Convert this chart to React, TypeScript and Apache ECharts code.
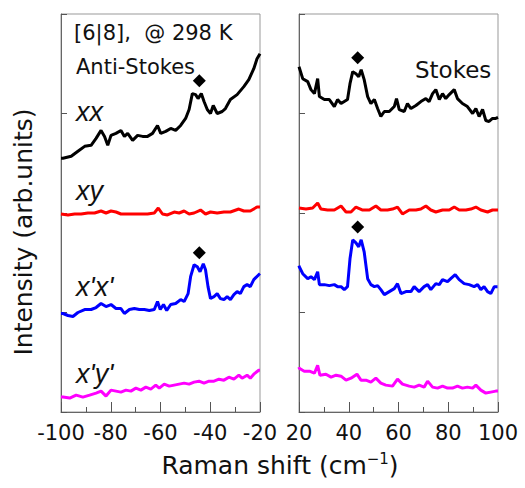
import React, { useEffect, useRef } from "react";
import * as echarts from "echarts";

// ---- data (x in cm^-1, y in arbitrary stacked units) ----
const xxLeft: number[][] = [
  [-100, 2.55], [-99.2, 2.55], [-95.9, 2.57], [-93.2, 2.62], [-90.5, 2.67], [-87.9, 2.68], [-85.9, 2.75],
  [-83.9, 2.83], [-82.5, 2.77], [-81.2, 2.68], [-79.9, 2.78], [-77.9, 2.8], [-75.9, 2.83], [-74.5, 2.77],
  [-73.2, 2.8], [-71.2, 2.73], [-69.2, 2.78], [-67.2, 2.77], [-65.2, 2.77], [-63.2, 2.8], [-61.2, 2.88],
  [-59.9, 2.8], [-57.9, 2.82], [-55.9, 2.85], [-53.9, 2.83], [-51.9, 2.88], [-49.9, 2.95], [-48.5, 3.04],
  [-47.2, 3.2], [-45.9, 3.19], [-44.9, 3.15], [-43.6, 3.2], [-42.5, 3.12], [-41.2, 3.04], [-39.9, 3.0],
  [-38.8, 3.08], [-37.2, 3.0], [-35.2, 3.02], [-33.9, 3.05], [-31.9, 3.14], [-29.2, 3.19], [-26.5, 3.27],
  [-24.5, 3.34], [-22.5, 3.45], [-21.2, 3.55], [-20, 3.6],
];
const xxRight: number[][] = [
  [20, 3.47], [21.5, 3.35], [23.5, 3.32], [24.8, 3.24], [26.2, 3.2], [27.5, 3.35], [28.2, 3.17], [30.2, 3.14],
  [32.2, 3.14], [34.2, 3.07], [35.5, 3.14], [36.9, 3.1], [38.2, 3.12], [39.5, 3.14], [40.5, 3.3], [41.6, 3.42],
  [42.9, 3.4], [44.0, 3.37], [45.0, 3.44], [46.2, 3.34], [47.6, 3.17], [48.9, 3.1], [50.3, 3.14], [51.6, 3.05],
  [52.9, 2.97], [54.3, 3.02], [56.3, 3.02], [58.3, 3.07], [59.2, 3.15], [60.3, 3.04], [62.3, 3.02], [63.6, 3.1],
  [65.0, 3.05], [67.0, 3.08], [69.0, 3.12], [71.0, 3.15], [72.3, 3.12], [73.7, 3.2], [75.0, 3.24], [76.4, 3.14],
  [77.7, 3.2], [79.0, 3.15], [80.4, 3.19], [82.4, 3.24], [83.7, 3.15], [85.7, 3.1], [87.7, 3.07], [89.8, 3.0],
  [91.1, 3.05], [92.4, 2.97], [93.8, 3.04], [95.1, 2.93], [96.4, 2.92], [97.8, 2.95], [99.1, 2.95], [100, 2.96],
];
const xyLeft: number[][] = [
  [-100, 1.99], [-97.2, 1.98], [-94.5, 1.99], [-91.9, 1.99], [-89.2, 2.0], [-86.5, 2.0], [-83.9, 2.02],
  [-81.9, 2.0], [-79.9, 2.02], [-77.9, 2.01], [-75.9, 1.99], [-73.2, 1.99], [-70.5, 1.99], [-67.9, 1.99],
  [-65.2, 1.99], [-62.5, 2.0], [-60.9, 2.05], [-59.2, 1.99], [-57.2, 1.98], [-54.5, 2.01], [-52.5, 2.0],
  [-50.5, 2.02], [-48.5, 1.99], [-46.5, 2.0], [-43.9, 2.03], [-41.9, 1.99], [-39.9, 2.01], [-37.2, 2.0],
  [-34.5, 2.01], [-31.9, 2.01], [-28.5, 2.04], [-26.5, 2.02], [-23.9, 2.02], [-21.2, 2.06], [-20, 2.06],
];
const xyRight: number[][] = [
  [20, 2.05], [22.8, 2.04], [25.5, 2.05], [27.5, 2.1], [28.8, 2.04], [31.5, 2.03], [34.2, 2.03], [36.9, 2.07],
  [38.9, 2.01], [40.9, 2.01], [42.9, 2.06], [45.6, 2.03], [48.3, 2.03], [50.9, 2.07], [52.9, 2.03], [55.6, 2.03],
  [57.6, 2.04], [59.6, 2.06], [61.6, 1.99], [64.3, 2.03], [67.0, 2.03], [69.0, 2.04], [71.0, 2.07], [73.0, 2.03],
  [75.0, 2.01], [77.7, 2.03], [80.4, 2.03], [82.4, 2.06], [84.4, 2.03], [87.1, 2.03], [89.1, 2.04], [91.1, 2.06],
  [93.1, 2.03], [95.8, 2.01], [97.8, 2.03], [100, 2.03],
];
const xpxpLeft: number[][] = [
  [-100, 0.99], [-99.2, 0.99], [-97.2, 0.97], [-95.2, 0.96], [-93.2, 1.0], [-90.5, 1.03], [-87.9, 1.03],
  [-85.9, 1.05], [-83.9, 1.09], [-81.9, 1.06], [-79.9, 1.08], [-77.9, 1.04], [-75.9, 1.04], [-74.5, 0.99],
  [-72.5, 1.03], [-70.5, 1.04], [-68.5, 1.03], [-66.5, 1.03], [-64.5, 1.02], [-62.5, 1.03], [-61.2, 1.11],
  [-60.1, 1.03], [-58.8, 1.08], [-57.5, 1.02], [-55.9, 1.08], [-53.9, 1.09], [-51.9, 1.13], [-50.5, 1.11],
  [-48.9, 1.19], [-47.9, 1.36], [-46.5, 1.48], [-45.2, 1.46], [-44.1, 1.41], [-42.8, 1.49], [-41.9, 1.43],
  [-40.9, 1.26], [-39.9, 1.14], [-38.5, 1.16], [-37.2, 1.19], [-35.9, 1.14], [-34.5, 1.13], [-33.2, 1.16],
  [-31.9, 1.13], [-30.5, 1.18], [-29.2, 1.21], [-27.9, 1.19], [-26.5, 1.26], [-25.2, 1.28], [-23.9, 1.26],
  [-22.5, 1.33], [-20.5, 1.38], [-20, 1.39],
];
const xpxpRight: number[][] = [
  [20, 1.47], [20.1, 1.46], [21.5, 1.39], [23.5, 1.34], [24.8, 1.36], [26.2, 1.33], [27.5, 1.41], [28.2, 1.28],
  [30.2, 1.28], [32.2, 1.27], [34.2, 1.28], [35.5, 1.26], [36.9, 1.26], [38.2, 1.23], [39.5, 1.26], [40.5, 1.54],
  [41.6, 1.73], [42.9, 1.7], [44.0, 1.66], [45.0, 1.73], [46.2, 1.61], [47.6, 1.34], [48.9, 1.28], [50.3, 1.26],
  [51.6, 1.27], [52.9, 1.23], [54.3, 1.18], [56.3, 1.21], [58.3, 1.24], [59.6, 1.29], [61.0, 1.19], [63.0, 1.21],
  [65.0, 1.21], [66.3, 1.26], [68.3, 1.21], [70.3, 1.26], [71.7, 1.28], [73.0, 1.23], [75.0, 1.29], [76.4, 1.28],
  [77.7, 1.33], [79.7, 1.31], [81.0, 1.34], [82.8, 1.38], [84.4, 1.33], [86.4, 1.29], [88.4, 1.28], [90.4, 1.26],
  [91.8, 1.28], [93.1, 1.23], [94.4, 1.26], [95.8, 1.21], [97.1, 1.19], [98.5, 1.26], [99.8, 1.26],
];
const xpypLeft: number[][] = [
  [-100, 0.15], [-99.2, 0.15], [-96.5, 0.14], [-93.9, 0.17], [-91.2, 0.15], [-88.5, 0.17], [-85.9, 0.19],
  [-83.9, 0.21], [-81.9, 0.16], [-79.9, 0.22], [-77.9, 0.21], [-75.9, 0.2], [-73.9, 0.22], [-71.9, 0.21],
  [-69.9, 0.24], [-67.9, 0.22], [-65.9, 0.25], [-63.9, 0.23], [-61.9, 0.27], [-60.5, 0.24], [-58.5, 0.28],
  [-56.5, 0.26], [-54.5, 0.27], [-52.5, 0.28], [-50.5, 0.29], [-48.5, 0.28], [-46.5, 0.3], [-44.5, 0.31],
  [-42.5, 0.29], [-40.5, 0.31], [-38.5, 0.31], [-36.5, 0.33], [-34.5, 0.32], [-32.5, 0.35], [-30.5, 0.33],
  [-28.5, 0.37], [-27.2, 0.34], [-25.2, 0.37], [-23.9, 0.34], [-22.5, 0.38], [-20.5, 0.42], [-20, 0.42],
];
const xpypRight: number[][] = [
  [20, 0.45], [20.1, 0.44], [22.1, 0.41], [24.2, 0.41], [26.2, 0.39], [27.5, 0.47], [28.4, 0.37], [30.8, 0.38],
  [32.9, 0.35], [34.9, 0.37], [36.9, 0.36], [38.9, 0.32], [40.9, 0.34], [43.3, 0.38], [44.9, 0.32], [46.9, 0.32],
  [48.9, 0.3], [50.9, 0.34], [52.9, 0.29], [54.9, 0.27], [57.6, 0.26], [59.6, 0.33], [61.6, 0.28], [64.3, 0.26],
  [66.3, 0.25], [68.3, 0.27], [70.3, 0.25], [71.7, 0.31], [73.7, 0.25], [75.7, 0.24], [77.7, 0.26], [79.7, 0.24],
  [81.7, 0.24], [83.7, 0.26], [85.7, 0.24], [87.7, 0.25], [89.8, 0.24], [91.1, 0.27], [93.1, 0.22], [95.1, 0.19],
  [97.1, 0.2], [99.1, 0.21], [100, 0.21],
];
const peaksLeft: number[][] = [[-44.4, 3.33], [-44.4, 1.6]];
const peaksRight: number[][] = [[43.6, 3.56], [43.6, 1.86]];

const leftTicks = { min: -100, max: -20, interval: 20 };
const rightTicks = { min: 20, max: 100, interval: 20 };
const yRange = { min: 0, max: 4, interval: 1 };

const FONT = "DejaVu Sans";
const ITALIC_FONT = "Liberation Sans";

function lineSeries(data: number[][], color: string, idx: number) {
  return {
    type: "line",
    data,
    xAxisIndex: idx,
    yAxisIndex: idx,
    showSymbol: false,
    symbol: "none",
    lineStyle: { width: 3, color },
    itemStyle: { color },
    z: 3,
  };
}

function xAxisDef(idx: number, r: { min: number; max: number; interval: number }) {
  return {
    gridIndex: idx,
    type: "value",
    min: r.min,
    max: r.max,
    interval: r.interval,
    axisLine: { show: true, onZero: false, lineStyle: { color: "#666", width: 1 } },
    axisTick: { show: true, inside: true, length: 10, lineStyle: { color: "#555", width: 1 } },
    minorTick: { show: true, splitNumber: 2, length: 5, lineStyle: { color: "#555", width: 1 } },
    splitLine: { show: false },
    minorSplitLine: { show: false },
    axisLabel: { color: "#111", fontSize: 21, fontFamily: FONT, margin: 10 },
  };
}

function yAxisDef(idx: number) {
  return {
    gridIndex: idx,
    type: "value",
    min: yRange.min,
    max: yRange.max,
    interval: yRange.interval,
    axisLine: { show: true, onZero: false, lineStyle: { color: "#666", width: 1 } },
    axisTick: { show: true, inside: true, length: 6, lineStyle: { color: "#555", width: 1 } },
    axisLabel: { show: false },
    splitLine: { show: false },
  };
}

function txt(text: string, x: number, y: number, size: number, italic = false, extra: any = {}) {
  return {
    type: "text",
    x,
    y,
    z: 10,
    style: {
      text,
      fill: "#111",
      fontSize: size,
      fontFamily: italic ? ITALIC_FONT : FONT,
      fontStyle: italic ? "italic" : "normal",
      align: "left",
      verticalAlign: "middle",
      ...extra,
    },
  };
}

export default function App() {
  const ref = useRef<HTMLDivElement>(null);
  useEffect(() => {
    if (!ref.current) return;
    const chart = echarts.init(ref.current, null, { renderer: "svg" });
    const option: any = {
      animation: false,
      backgroundColor: "#fff",
      grid: [
        { left: 61, top: 14, width: 199, height: 398, show: true, borderColor: "#999", borderWidth: 1 },
        { left: 299, top: 14, width: 199, height: 398, show: true, borderColor: "#999", borderWidth: 1 },
      ],
      xAxis: [xAxisDef(0, leftTicks), xAxisDef(1, rightTicks)],
      yAxis: [yAxisDef(0), yAxisDef(1)],
      series: [
        lineSeries(xxLeft, "#000000", 0),
        lineSeries(xyLeft, "#ff0000", 0),
        lineSeries(xpxpLeft, "#0000ff", 0),
        lineSeries(xpypLeft, "#ff00ff", 0),
        lineSeries(xxRight, "#000000", 1),
        lineSeries(xyRight, "#ff0000", 1),
        lineSeries(xpxpRight, "#0000ff", 1),
        lineSeries(xpypRight, "#ff00ff", 1),
        {
          type: "scatter", data: peaksLeft, xAxisIndex: 0, yAxisIndex: 0,
          symbol: "diamond", symbolSize: 13, itemStyle: { color: "#000", opacity: 1 }, z: 4,
        },
        {
          type: "scatter", data: peaksRight, xAxisIndex: 1, yAxisIndex: 1,
          symbol: "diamond", symbolSize: 13, itemStyle: { color: "#000", opacity: 1 }, z: 4,
        },
      ],
      graphic: [
        txt("[6|8],  @ 298 K", 74, 33, 21),
        txt("Anti-Stokes", 76, 67, 21),
        txt("Stokes", 415, 70, 23),
        txt("xx", 76, 112, 27, true),
        txt("xy", 76, 191, 27, true),
        txt("x'x'", 76, 287, 27, true),
        txt("x'y'", 76, 374, 27, true),
        {
          type: "text",
          x: 280,
          y: 465,
          z: 10,
          style: {
            text: "Raman shift (cm{sup|−1})",
            fill: "#111",
            fontSize: 25,
            fontFamily: FONT,
            align: "center",
            verticalAlign: "middle",
            rich: {
              sup: { fontSize: 15, fontFamily: FONT, fill: "#111", padding: [0, 0, 13, 0] },
            },
          },
        },
        {
          type: "text",
          x: 23,
          y: 232,
          rotation: Math.PI / 2,
          z: 10,
          style: {
            text: "Intensity (arb.units)",
            fill: "#111",
            fontSize: 25,
            fontFamily: FONT,
            align: "center",
            verticalAlign: "middle",
          },
        },
      ],
    };
    chart.setOption(option);
    return () => chart.dispose();
  }, []);
  return (
    <div
      ref={ref}
      style={{ position: "fixed", left: 0, top: 0, width: 525, height: 488, background: "#fff" }}
    />
  );
}
